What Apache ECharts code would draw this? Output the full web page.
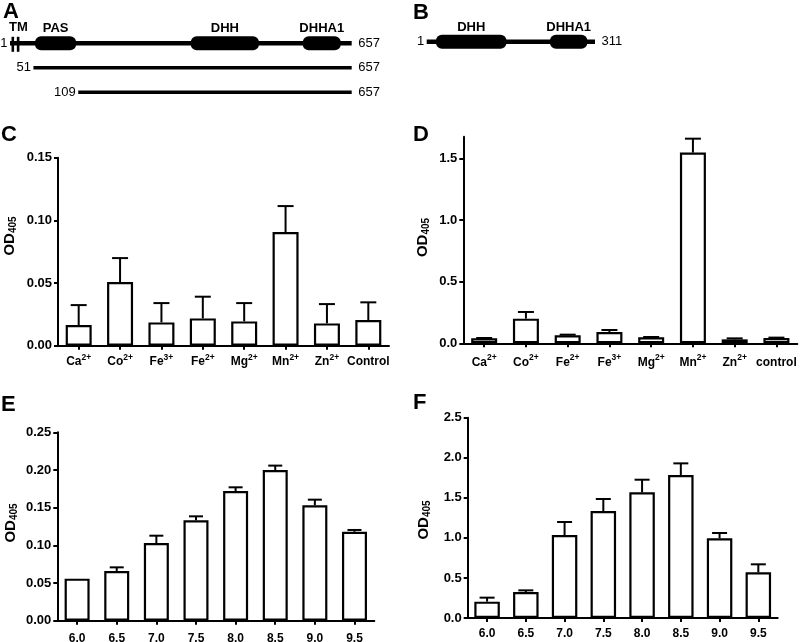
<!DOCTYPE html>
<html><head><meta charset="utf-8">
<script src="https://cdn.jsdelivr.net/npm/echarts@6/dist/echarts.min.js"></script>
<style>html,body{margin:0;padding:0;background:#fff}#c{width:800px;height:642px}</style>
</head><body><div id="c"></div>
<script>
// ---- Panel A / B schematic data (residue positions) ----
const constructStartA = [1, 46, 132];
const constructStartLabelA = ['1', '51', '109'];
const constructEndA = [657, 657, 657];
const constructEndLabelA = ['657', '657', '657'];
const domainNamesA = ['PAS', 'DHH', 'DHHA1'];
const domainStartA = [49, 348, 563];
const domainEndA = [128, 479, 636];
const tmPosA = [6.4, 16.6];

const constructStartB = [1];
const constructEndB = [311];
const domainNamesB = ['DHH', 'DHHA1'];
const domainStartB = [18, 228];
const domainEndB = [148, 297];

// ---- Panel C ----
const catsC = ['Ca2+', 'Co2+', 'Fe3+', 'Fe2+', 'Mg2+', 'Mn2+', 'Zn2+', 'Control'];
const valC = [0.0165, 0.0508, 0.0186, 0.0218, 0.0194, 0.0907, 0.0178, 0.0205];
const errC = [0.0159, 0.0191, 0.0154, 0.0173, 0.0146, 0.0207, 0.0154, 0.0141];
const ticksC = [0, 0.05, 0.10, 0.15];
// ---- Panel D ----
const catsD = ['Ca2+', 'Co2+', 'Fe2+', 'Fe3+', 'Mg2+', 'Mn2+', 'Zn2+', 'control'];
const valD = [0.040, 0.200, 0.065, 0.092, 0.049, 1.546, 0.032, 0.043];
const errD = [0.003, 0.054, 0.005, 0.016, 0.002, 0.113, 0.008, 0.003];
const ticksD = [0, 0.5, 1.0, 1.5];
// ---- Panel E ----
const catsE = ['6.0', '6.5', '7.0', '7.5', '8.0', '8.5', '9.0', '9.5'];
const valE = [0.0558, 0.066, 0.103, 0.1332, 0.1721, 0.200, 0.1531, 0.118];
const errE = [0, 0.0048, 0.0098, 0.0053, 0.0049, 0.0058, 0.0075, 0.0024];
const ticksE = [0, 0.05, 0.10, 0.15, 0.20, 0.25];
// ---- Panel F ----
const catsF = ['6.0', '6.5', '7.0', '7.5', '8.0', '8.5', '9.0', '9.5'];
const valF = [0.204, 0.324, 1.036, 1.335, 1.568, 1.785, 0.994, 0.570];
const errF = [0.050, 0.021, 0.162, 0.150, 0.158, 0.145, 0.067, 0.100];
const ticksF = [0, 0.5, 1.0, 1.5, 2.0, 2.5];

const FONT = 'Liberation Sans, Arial, Helvetica, sans-serif';
const chart = echarts.init(document.getElementById('c'), null, {renderer: 'canvas'});

function catLabel(v) {
  const m = /^([A-Za-z]+)(\d\+)$/.exec(v);
  if (m) return '{b|' + m[1] + '}{s|' + m[2] + '}';
  return '{b|' + v + '}';
}
const richCat = {
  b: {fontSize: 12, fontWeight: 'bold', fontFamily: FONT, color: '#000', lineHeight: 15, verticalAlign: 'bottom'},
  s: {fontSize: 8.5, fontWeight: 'bold', fontFamily: FONT, color: '#000', lineHeight: 9, verticalAlign: 'top'}
};

function xAxisCfg(gi, cats, margin) {
  return {
    type: 'category', gridIndex: gi, data: cats,
    axisLine: {show: true, lineStyle: {color: '#000', width: 2}},
    axisTick: {show: true, alignWithLabel: true, length: 4, lineStyle: {color: '#000', width: 2}},
    axisLabel: {interval: 0, margin: margin, formatter: catLabel, rich: richCat},
    splitLine: {show: false}
  };
}
function yAxisCfg(gi, max, ticks, dec) {
  return {
    type: 'value', gridIndex: gi, min: 0, max: max,
    axisLine: {show: true, lineStyle: {color: '#000', width: 2}},
    axisTick: {show: true, length: 4, lineStyle: {color: '#000', width: 2}, customValues: ticks},
    axisLabel: {show: true, customValues: ticks, margin: 6, fontSize: 13, fontWeight: 'bold', fontFamily: FONT, color: '#000',
      formatter: v => Number(v).toFixed(dec)},
    splitLine: {show: false}
  };
}
function barSeries(gi, vals, bw) {
  return {
    type: 'bar', xAxisIndex: gi, yAxisIndex: gi, data: vals, barWidth: bw,
    itemStyle: {color: '#fff', borderColor: '#000', borderWidth: 2.2},
    silent: true, animation: false
  };
}
function errSeries(gi, vals, errs, capW) {
  return {
    type: 'custom', xAxisIndex: gi, yAxisIndex: gi, z: 5, silent: true, animation: false,
    data: vals.map((v, i) => [i, v, errs[i]]),
    encode: {x: 0, y: 1},
    renderItem: function (params, api) {
      const i = api.value(0), v = api.value(1), e = api.value(2);
      if (!(e > 0)) return null;
      const p0 = api.coord([i, v]), p1 = api.coord([i, v + e]);
      return {type: 'group', children: [
        {type: 'line', shape: {x1: p0[0], y1: p0[1], x2: p1[0], y2: p1[1]}, style: {stroke: '#000', lineWidth: 2}},
        {type: 'line', shape: {x1: p1[0] - capW / 2, y1: p1[1], x2: p1[0] + capW / 2, y2: p1[1]}, style: {stroke: '#000', lineWidth: 2}}
      ]};
    }
  };
}

// schematic series
function backboneSeries(gi, starts, ends, startLabels, endLabels) {
  return {
    type: 'custom', xAxisIndex: gi, yAxisIndex: gi, silent: true, animation: false,
    data: starts.map((s, i) => [s, ends[i], i]),
    encode: {x: [0, 1], y: 2},
    renderItem: function (params, api) {
      const s = api.value(0), e = api.value(1), r = api.value(2);
      const p0 = api.coord([s, r]), p1 = api.coord([e, r]);
      const idx = params.dataIndex;
      return {type: 'group', children: [
        {type: 'line', shape: {x1: p0[0], y1: p0[1], x2: p1[0], y2: p1[1]}, style: {stroke: '#000', lineWidth: r === 0 ? 4.5 : 3.5}},
        {type: 'text', style: {text: startLabels[idx], x: p0[0] - 2.5, y: p0[1], align: 'right', verticalAlign: 'middle',
          fontSize: 13, fontFamily: FONT, fill: '#000'}},
        {type: 'text', style: {text: endLabels[idx], x: p1[0] + 6.5, y: p0[1], align: 'left', verticalAlign: 'middle',
          fontSize: 13, fontFamily: FONT, fill: '#000'}}
      ]};
    }
  };
}
function domainSeries(gi, starts, ends, names) {
  return {
    type: 'custom', xAxisIndex: gi, yAxisIndex: gi, silent: true, animation: false, z: 4,
    data: starts.map((s, i) => [s, ends[i], 0]),
    encode: {x: [0, 1], y: 2},
    renderItem: function (params, api) {
      const s = api.value(0), e = api.value(1), r = api.value(2);
      const p0 = api.coord([s, r]), p1 = api.coord([e, r]);
      return {type: 'group', children: [
        {type: 'rect', shape: {x: p0[0], y: p0[1] - 7, width: p1[0] - p0[0], height: 14, r: 6}, style: {fill: '#000'}},
        {type: 'text', style: {text: names[params.dataIndex], x: (p0[0] + p1[0]) / 2, y: p0[1] - 8, align: 'center', verticalAlign: 'bottom',
          fontSize: 13, fontWeight: 'bold', fontFamily: FONT, fill: '#000'}}
      ]};
    }
  };
}
function tmSeries(gi, pos) {
  return {
    type: 'custom', xAxisIndex: gi, yAxisIndex: gi, silent: true, animation: false, z: 4,
    data: pos.map(p => [p, 0]),
    encode: {x: 0, y: 1},
    renderItem: function (params, api) {
      const p = api.coord([api.value(0), api.value(1)]);
      const children = [{type: 'rect', shape: {x: p[0] - 1.3, y: p[1] - 6.5, width: 2.6, height: 15}, style: {fill: '#000'}}];
      if (params.dataIndex === 0) {
        const q = api.coord([(pos[0] + pos[1]) / 2, 0]);
        children.push({type: 'text', style: {text: 'TM', x: q[0] + 3, y: q[1] - 9, align: 'center', verticalAlign: 'bottom',
          fontSize: 13, fontWeight: 'bold', fontFamily: FONT, fill: '#000'}});
      }
      return {type: 'group', children: children};
    }
  };
}

const hiddenAxis = (gi, min, max, inv) => ({type: 'value', gridIndex: gi, min: min, max: max, inverse: !!inv, show: false,
  axisLine: {show: false}, axisTick: {show: false}, axisLabel: {show: false}, splitLine: {show: false}});

const odRich = {
  a: {fontSize: 15, fontWeight: 'bold', fontFamily: FONT, fill: '#000', lineHeight: 16, verticalAlign: 'top'},
  n: {fontSize: 10, fontWeight: 'bold', fontFamily: FONT, fill: '#000', lineHeight: 10, padding: [9, 0, 0, 0], verticalAlign: 'bottom'}
};
function odName(x, y) {
  return {type: 'text', x: x, y: y, rotation: Math.PI / 2, silent: true,
    style: {text: '{a|OD}{n|405}', rich: odRich, align: 'center', verticalAlign: 'middle', fill: '#000'}};
}
function letter(t, x, y) {
  return {type: 'text', x: x, y: y, silent: true,
    style: {text: t, fontSize: 22, fontWeight: 'bold', fontFamily: FONT, fill: '#000', align: 'left', verticalAlign: 'top'}};
}

const option = {
  backgroundColor: '#fff',
  animation: false,
  grid: [
    {left: 58, top: 157.7, width: 331, height: 188, outerBoundsMode: 'none', containLabel: false},
    {left: 463.3, top: 136.7, width: 334, height: 206.6, outerBoundsMode: 'none', containLabel: false},
    {left: 57.3, top: 432.3, width: 317, height: 188.4, outerBoundsMode: 'none', containLabel: false},
    {left: 467.7, top: 417.7, width: 310, height: 200.3, outerBoundsMode: 'none', containLabel: false},
    {left: 10, top: 43.3, width: 341.7, height: 49, outerBoundsMode: 'none', containLabel: false},
    {left: 426.7, top: 41.7, width: 168.3, height: 10, outerBoundsMode: 'none', containLabel: false}
  ],
  xAxis: [
    xAxisCfg(0, catsC, 7),
    xAxisCfg(1, catsD, 10),
    xAxisCfg(2, catsE, 9),
    xAxisCfg(3, catsF, 7),
    hiddenAxis(4, 1, 657),
    hiddenAxis(5, 1, 311)
  ],
  yAxis: [
    yAxisCfg(0, 0.15, ticksC, 2),
    yAxisCfg(1, 1.675, ticksD, 1),
    yAxisCfg(2, 0.25, ticksE, 2),
    yAxisCfg(3, 2.5, ticksF, 1),
    hiddenAxis(4, 0, 2, true),
    hiddenAxis(5, 0, 1, true)
  ],
  series: [
    barSeries(0, valC, 26), errSeries(0, valC, errC, 16),
    barSeries(1, valD, 26), errSeries(1, valD, errD, 16),
    barSeries(2, valE, 25), errSeries(2, valE, errE, 14),
    barSeries(3, valF, 25.5), errSeries(3, valF, errF, 15),
    backboneSeries(4, constructStartA, constructEndA, constructStartLabelA, constructEndLabelA),
    domainSeries(4, domainStartA, domainEndA, domainNamesA),
    tmSeries(4, tmPosA),
    backboneSeries(5, constructStartB, constructEndB, ['1'], ['311']),
    domainSeries(5, domainStartB, domainEndB, domainNamesB)
  ],
  graphic: [
    letter('A', 3, 1), letter('B', 413, 2), letter('C', 1, 124), letter('D', 413, 124), letter('E', 1, 394), letter('F', 413, 392),
    odName(10, 236), odName(423, 237.5), odName(11, 523), odName(424, 520)
  ]
};
chart.setOption(option);
</script>
</body></html>
